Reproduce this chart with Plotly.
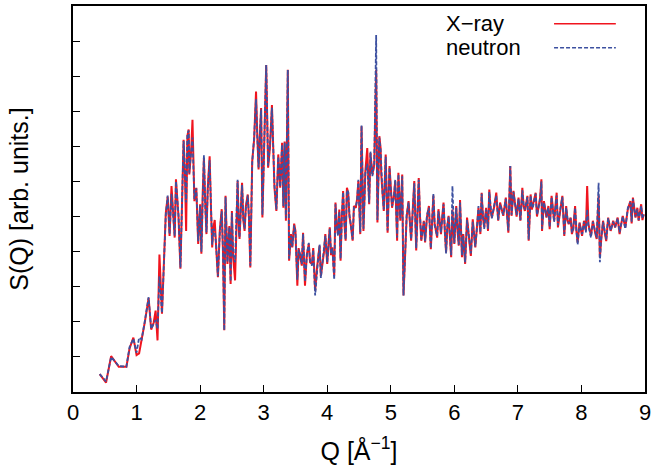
import plotly.graph_objects as go

# ---------------- data ----------------
q = [
    0.42, 0.52, 0.60, 0.72, 0.84, 0.89, 0.95, 1.00, 1.04, 1.08, 1.13, 1.19, 1.23, 1.27, 1.30, 1.33, 1.36, 1.40, 1.43, 1.46,
    1.49, 1.52, 1.55, 1.58, 1.60, 1.62, 1.66, 1.69, 1.72, 1.74, 1.76, 1.78, 1.80, 1.82, 1.83, 1.86, 1.88, 1.91, 1.94, 1.97,
    2.00, 2.02, 2.04, 2.06, 2.08, 2.10, 2.12, 2.15, 2.17, 2.19, 2.21, 2.23, 2.25, 2.28, 2.31, 2.34, 2.36, 2.38, 2.40, 2.43,
    2.46, 2.48, 2.50, 2.52, 2.55, 2.57, 2.59, 2.61, 2.62, 2.64, 2.66, 2.68, 2.70, 2.72, 2.75, 2.77, 2.79, 2.81, 2.82, 2.85,
    2.88, 2.90, 2.92, 2.94, 2.96, 2.98, 3.01, 3.04, 3.07, 3.10, 3.13, 3.15, 3.17, 3.20, 3.23, 3.26, 3.29, 3.31, 3.33, 3.35,
    3.38, 3.40, 3.43, 3.45, 3.48, 3.50, 3.53, 3.55, 3.57, 3.60, 3.62, 3.65, 3.68, 3.71, 3.73, 3.76, 3.78, 3.81, 3.84, 3.86,
    3.88, 3.90, 3.92, 3.95, 3.97, 4.00, 4.02, 4.04, 4.06, 4.08, 4.11, 4.13, 4.15, 4.17, 4.19, 4.21, 4.23, 4.25, 4.27, 4.29,
    4.31, 4.33, 4.35, 4.37, 4.40, 4.42, 4.45, 4.47, 4.49, 4.52, 4.54, 4.57, 4.60, 4.63, 4.66, 4.68, 4.71, 4.74, 4.77, 4.79,
    4.82, 4.84, 4.85, 4.87, 4.89, 4.92, 4.95, 4.98, 5.00, 5.02, 5.05, 5.07, 5.10, 5.12, 5.15, 5.18, 5.20, 5.23, 5.25, 5.28,
    5.32, 5.34, 5.37, 5.40, 5.44, 5.46, 5.48, 5.52, 5.54, 5.57, 5.60, 5.63, 5.67, 5.69, 5.71, 5.73, 5.75, 5.79, 5.81, 5.83,
    5.85, 5.87, 5.89, 5.91, 5.95, 5.97, 6.00, 6.03, 6.05, 6.07, 6.09, 6.12, 6.14, 6.17, 6.20, 6.22, 6.24, 6.26, 6.29, 6.31,
    6.33, 6.36, 6.38, 6.41, 6.43, 6.45, 6.47, 6.50, 6.53, 6.55, 6.57, 6.59, 6.63, 6.66, 6.69, 6.72, 6.75, 6.77, 6.81, 6.85,
    6.88, 6.90, 6.93, 6.96, 6.98, 7.01, 7.04, 7.07, 7.09, 7.11, 7.15, 7.17, 7.20, 7.22, 7.24, 7.28, 7.30, 7.32, 7.35, 7.37,
    7.38, 7.41, 7.45, 7.48, 7.50, 7.53, 7.55, 7.57, 7.61, 7.63, 7.67, 7.70, 7.73, 7.76, 7.78, 7.80, 7.83, 7.85, 7.87, 7.90,
    7.92, 7.94, 7.97, 8.01, 8.04, 8.07, 8.09, 8.11, 8.15, 8.18, 8.22, 8.24, 8.27, 8.29, 8.31, 8.34, 8.37, 8.39, 8.42, 8.46,
    8.50, 8.53, 8.57, 8.60, 8.62, 8.65, 8.69, 8.73, 8.77, 8.79, 8.81, 8.85, 8.88, 8.90, 8.94, 8.96, 8.98,
]

xray = [
    0.51, 0.27, 1.02, 0.72, 0.72, 1.24, 1.55, 1.05, 1.10, 1.47, 1.99, 2.68, 1.78, 1.98, 2.32, 1.47, 3.92, 2.23, 3.90, 5.10,
    5.57, 4.45, 5.87, 5.00, 4.40, 6.06, 5.00, 3.51, 5.80, 7.19, 6.30, 4.59, 7.30, 7.48, 6.20, 6.90, 7.76, 5.44, 5.82, 4.22,
    5.35, 3.94, 5.60, 6.67, 5.40, 4.50, 5.80, 6.72, 5.30, 4.12, 4.70, 4.90, 4.20, 3.27, 4.60, 5.21, 4.00, 1.76, 5.59, 3.65,
    4.73, 3.08, 5.16, 3.84, 3.18, 4.90, 6.01, 4.60, 4.36, 5.20, 5.96, 4.90, 4.59, 5.30, 5.63, 4.90, 3.55, 5.60, 6.58, 7.20,
    8.56, 7.30, 6.34, 7.30, 8.09, 4.97, 7.50, 9.32, 6.39, 7.00, 8.18, 6.80, 5.82, 5.16, 6.77, 5.82, 7.10, 5.25, 7.14, 4.88,
    9.18, 3.74, 4.50, 4.12, 4.80, 4.59, 3.03, 4.10, 3.93, 3.60, 4.54, 3.03, 3.93, 4.22, 3.70, 3.65, 4.10, 2.89, 3.55, 3.90,
    4.17, 3.30, 3.55, 4.00, 4.50, 3.65, 4.20, 4.69, 3.90, 4.12, 3.32, 5.40, 4.70, 4.50, 5.20, 3.74, 5.00, 5.73, 4.80, 4.31,
    5.82, 5.68, 5.00, 4.78, 4.31, 5.30, 5.25, 5.50, 6.01, 4.50, 7.57, 4.59, 6.29, 6.95, 5.35, 6.81, 6.20, 6.48, 9.18, 4.83,
    7.29, 6.95, 6.20, 5.60, 5.16, 6.77, 4.54, 6.44, 5.70, 5.25, 5.60, 6.01, 4.31, 6.25, 4.88, 6.20, 2.75, 4.40, 5.00, 5.44,
    4.31, 5.00, 6.01, 4.03, 6.10, 5.00, 4.31, 4.88, 4.26, 5.00, 5.30, 4.07, 5.60, 4.80, 4.59, 4.40, 5.21, 4.50, 5.00, 5.40,
    4.60, 3.98, 4.70, 5.02, 3.84, 5.20, 4.22, 5.30, 4.60, 4.17, 5.47, 3.84, 4.50, 3.65, 4.97, 4.50, 4.22, 3.88, 4.92, 4.50,
    4.12, 4.80, 5.25, 4.50, 5.68, 5.00, 4.69, 5.25, 4.59, 5.77, 5.20, 4.97, 5.30, 5.68, 4.88, 5.40, 5.10, 5.02, 5.54, 4.54,
    6.44, 5.02, 5.73, 5.25, 5.00, 5.54, 4.88, 5.82, 5.30, 5.16, 5.59, 4.31, 5.63, 5.20, 5.35, 5.68, 5.00, 5.25, 5.54, 6.06,
    4.59, 5.44, 4.97, 5.30, 4.64, 5.59, 5.10, 4.88, 5.68, 4.69, 5.21, 5.59, 4.45, 5.30, 4.90, 4.78, 4.97, 4.50, 4.64, 5.30,
    4.60, 4.26, 4.83, 4.45, 4.88, 4.59, 5.87, 4.78, 4.45, 4.88, 4.50, 4.36, 5.60, 3.84, 4.31, 4.88, 4.50, 4.30, 4.97, 4.59,
    4.88, 4.69, 4.97, 4.50, 4.73, 5.02, 4.69, 5.21, 5.44, 4.80, 5.54, 4.97, 5.25, 4.88, 5.35, 4.90, 5.07,
]

neutron = [
    0.51, 0.30, 1.00, 0.74, 0.72, 1.28, 1.52, 1.12, 1.55, 1.50, 2.02, 2.70, 1.80, 1.96, 2.05, 1.80, 3.30, 2.25, 3.85, 5.05,
    5.60, 4.50, 5.65, 5.05, 4.45, 6.00, 5.05, 3.55, 5.75, 7.15, 6.35, 5.40, 7.35, 7.45, 6.25, 6.85, 7.25, 5.50, 5.80, 4.30,
    5.30, 4.00, 5.55, 6.75, 5.35, 4.55, 5.75, 6.60, 5.35, 4.20, 4.65, 4.60, 4.25, 3.30, 4.55, 5.15, 4.05, 1.76, 5.55, 3.70,
    4.70, 3.15, 5.10, 3.90, 3.70, 4.85, 6.05, 4.65, 4.40, 5.15, 5.90, 4.95, 4.65, 5.25, 5.60, 4.95, 3.60, 5.55, 6.55, 7.25,
    8.35, 7.25, 6.40, 7.35, 8.05, 5.05, 7.45, 9.32, 6.45, 7.05, 8.10, 6.85, 5.90, 5.20, 6.70, 5.85, 7.05, 5.30, 7.10, 4.95,
    9.18, 3.80, 4.45, 4.15, 4.75, 4.55, 3.20, 4.05, 3.95, 3.65, 4.50, 3.15, 3.90, 4.25, 3.75, 3.60, 4.05, 2.75, 3.60, 3.85,
    4.20, 3.25, 3.60, 4.05, 4.45, 3.70, 4.15, 4.65, 3.95, 4.10, 3.20, 5.35, 4.75, 4.45, 5.15, 3.80, 4.95, 5.70, 4.85, 4.35,
    5.75, 5.70, 5.05, 4.75, 4.35, 5.25, 5.30, 5.45, 6.05, 4.55, 7.60, 4.65, 6.25, 6.50, 5.40, 6.85, 6.15, 6.50, 10.17, 4.90,
    7.25, 6.90, 6.25, 5.65, 5.20, 6.70, 4.60, 6.40, 5.75, 5.30, 5.55, 6.05, 4.40, 6.20, 4.95, 6.15, 2.75, 4.45, 5.05, 5.40,
    4.35, 4.95, 5.95, 4.10, 6.05, 5.05, 4.35, 4.85, 4.30, 5.05, 5.25, 4.10, 5.65, 4.75, 4.55, 4.45, 5.15, 4.55, 4.95, 5.35,
    4.65, 3.95, 4.75, 5.00, 3.90, 5.87, 4.25, 5.25, 4.65, 4.20, 5.40, 3.90, 4.45, 3.70, 4.90, 4.55, 4.25, 3.95, 4.85, 4.55,
    4.15, 4.75, 5.30, 4.55, 5.65, 5.05, 4.65, 5.20, 4.65, 5.70, 5.25, 4.95, 5.35, 5.60, 4.90, 5.35, 5.15, 5.05, 5.50, 4.60,
    6.44, 5.05, 5.70, 5.30, 5.05, 5.50, 4.90, 5.75, 5.35, 5.20, 5.55, 4.35, 5.60, 5.25, 5.30, 5.65, 5.05, 5.20, 5.50, 6.00,
    4.65, 5.40, 5.00, 5.25, 4.70, 5.55, 5.15, 4.85, 5.60, 4.75, 5.25, 5.55, 4.50, 5.25, 4.95, 4.80, 4.95, 4.55, 4.60, 5.25,
    4.65, 4.20, 4.80, 4.50, 4.85, 4.55, 5.20, 4.75, 4.40, 4.85, 4.55, 4.40, 5.96, 3.70, 4.35, 4.85, 4.55, 4.35, 4.95, 4.60,
    4.85, 4.70, 4.95, 4.55, 4.75, 5.00, 4.65, 5.25, 5.40, 4.85, 5.50, 5.00, 5.20, 4.90, 5.30, 4.95, 5.05,
]

series_names = ["X\u2212ray", "neutron"]
x_ticks = [0, 1, 2, 3, 4, 5, 6, 7, 8, 9]
y_ticks = [0, 1, 2, 3, 4, 5, 6, 7, 8, 9, 10, 11]

assert len(q) == len(xray) == len(neutron)

# ---------------- styling ----------------
RED = "#f0141e"
BLUE = "#3c50a0"
FONT = "Liberation Sans, Arial, Helvetica, sans-serif"

fig = go.Figure()
fig.add_trace(go.Scatter(x=q, y=xray, mode="lines", name=series_names[0],
                         line=dict(color=RED, width=2), showlegend=False))
fig.add_trace(go.Scatter(x=q, y=neutron, mode="lines", name=series_names[1],
                         line=dict(color=BLUE, width=1.8, dash="4px,2px"), showlegend=False))

axis_common = dict(showline=True, linecolor="black", linewidth=1.5, mirror=True,
                   ticks="inside", ticklen=7, tickwidth=1.2, tickcolor="black",
                   showgrid=False, zeroline=False)

fig.update_xaxes(range=[0, 9], tickvals=x_ticks, ticktext=[str(v) for v in x_ticks],
                 tickfont=dict(family=FONT, size=22, color="black"),
                 title=dict(text="Q [Å<sup>\u22121</sup>]", font=dict(family=FONT, size=25, color="black"),
                            standoff=18),
                 **axis_common)
fig.update_yaxes(range=[0, 11], tickvals=y_ticks, showticklabels=False,
                 title=dict(text="S(Q) [arb. units.]", font=dict(family=FONT, size=25, color="black"),
                            standoff=36),
                 **axis_common)

# gnuplot-style key: text on the left, line sample on the right
legend_rows = [(series_names[0], 0.954, dict(color=RED, width=1.6)),
               (series_names[1], 0.892, dict(color=BLUE, width=1.6, dash="4px,2px"))]
for label, yy, ln in legend_rows:
    fig.add_annotation(x=0.648, y=yy, xref="paper", yref="paper", text=label, showarrow=False,
                       xanchor="left", yanchor="middle",
                       font=dict(family=FONT, size=22, color="black"))
    fig.add_shape(type="line", xref="paper", yref="paper", x0=0.841, x1=0.949, y0=yy, y1=yy,
                  line=ln)

fig.update_layout(width=655, height=470, margin=dict(l=73, r=8, t=4, b=78),
                  paper_bgcolor="white", plot_bgcolor="white",
                  font=dict(family=FONT, color="black"))

fig.write_html("out.html")
